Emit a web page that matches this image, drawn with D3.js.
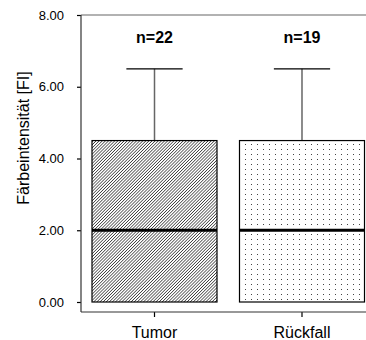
<!DOCTYPE html>
<html><head><meta charset="utf-8">
<script src="https://cdn.jsdelivr.net/npm/d3@7/dist/d3.min.js"></script>
<style>html,body{margin:0;padding:0;background:#fff;}svg{display:block;font-family:Arial,"Liberation Sans",sans-serif;}</style>
</head><body>
<svg id="c" width="366" height="340"></svg>
<script>
const categories = ["Tumor", "Rückfall"];
const nLabels = ["n=22", "n=19"];
const q1 = [0, 0];
const median = [2, 2];
const q3 = [4.5, 4.5];
const whiskerLow = [0, 0];
const whiskerHigh = [6.5, 6.5];
const yTicks = [0, 2, 4, 6, 8];
const yTitle = "Färbeintensität [FI]";

const svg = d3.select("#c");
const defs = svg.append("defs");
const hatch = defs.append("pattern").attr("id","hatch").attr("patternUnits","userSpaceOnUse")
  .attr("width",2.2).attr("height",2.2).attr("patternTransform","rotate(45)");
hatch.append("rect").attr("width",2.2).attr("height",2.2).attr("fill","#fff");
hatch.append("line").attr("x1",0).attr("y1",0).attr("x2",0).attr("y2",2.2).attr("stroke","#111").attr("stroke-width",1.2);
const dots = defs.append("pattern").attr("id","dots").attr("patternUnits","userSpaceOnUse")
  .attr("width",6).attr("height",5).attr("x",93).attr("y",142);
dots.append("rect").attr("width",6).attr("height",5).attr("fill","#fff");
dots.append("rect").attr("x",2).attr("y",2).attr("width",1).attr("height",1).attr("fill","#444");
const fills = ["url(#hatch)", "url(#dots)"];

const y = d3.scaleLinear().domain([0, 8]).range([302, 15]);
const x = d3.scaleBand().domain(categories).range([92, 364.5]).paddingInner(0.1525).paddingOuter(0);
const bw = x.bandwidth();

// top frame line
svg.append("line").attr("x1",81).attr("x2",366).attr("y1",y(8)).attr("y2",y(8)).attr("stroke","#999").attr("stroke-width",1.5);

// y axis
const yAxis = d3.axisLeft(y).tickValues(yTicks).tickFormat(d3.format(".2f")).tickSize(4).tickPadding(13);
const ya = svg.append("g").attr("transform","translate(81,0)").call(yAxis);
ya.select(".domain").remove();
ya.selectAll(".tick line").attr("stroke","#000").attr("stroke-width",1.2);
ya.selectAll(".tick text").attr("font-size",13).attr("fill","#000").attr("font-family","Arial, 'Liberation Sans', sans-serif");
svg.append("line").attr("x1",81).attr("x2",81).attr("y1",y(8)).attr("y2",312).attr("stroke","#333").attr("stroke-width",1.2);

// x axis
const xAxis = d3.axisBottom(x).tickSize(5).tickPadding(10);
const xa = svg.append("g").attr("transform","translate(0,312)").call(xAxis);
xa.select(".domain").remove();
xa.selectAll(".tick line").attr("stroke","#000").attr("stroke-width",1.2);
xa.selectAll(".tick text").attr("font-size",16).attr("fill","#000").attr("font-family","Arial, 'Liberation Sans', sans-serif");
svg.append("line").attr("x1",81).attr("x2",366).attr("y1",312).attr("y2",312).attr("stroke","#333").attr("stroke-width",1.2);

// y title
svg.append("text").attr("transform",`translate(23,138) rotate(-90)`)
  .attr("text-anchor","middle").attr("dominant-baseline","central").attr("font-size",16).attr("fill","#000").text(yTitle);

categories.forEach((c, i) => {
  const x0 = x(c), cx = x0 + bw/2;
  const capW = bw * 0.45;
  // whisker
  svg.append("line").attr("x1",cx).attr("x2",cx).attr("y1",y(q3[i])).attr("y2",y(whiskerHigh[i])).attr("stroke","#666").attr("stroke-width",1.5);
  svg.append("line").attr("x1",cx-capW/2).attr("x2",cx+capW/2).attr("y1",y(whiskerHigh[i])).attr("y2",y(whiskerHigh[i])).attr("stroke","#000").attr("stroke-width",1.2);
  // box
  svg.append("rect").attr("x",x0).attr("y",y(q3[i])).attr("width",bw).attr("height",y(q1[i])-y(q3[i]))
    .attr("fill",fills[i]).attr("stroke","#000").attr("stroke-width",1.2);
  // median
  svg.append("line").attr("x1",x0).attr("x2",x0+bw).attr("y1",y(median[i])).attr("y2",y(median[i])).attr("stroke","#000").attr("stroke-width",3);
  // n label
  svg.append("text").attr("x",cx).attr("y",43).attr("text-anchor","middle").attr("font-size",16).attr("font-weight","bold").attr("fill","#000").text(nLabels[i]);
});
</script>
</body></html>
